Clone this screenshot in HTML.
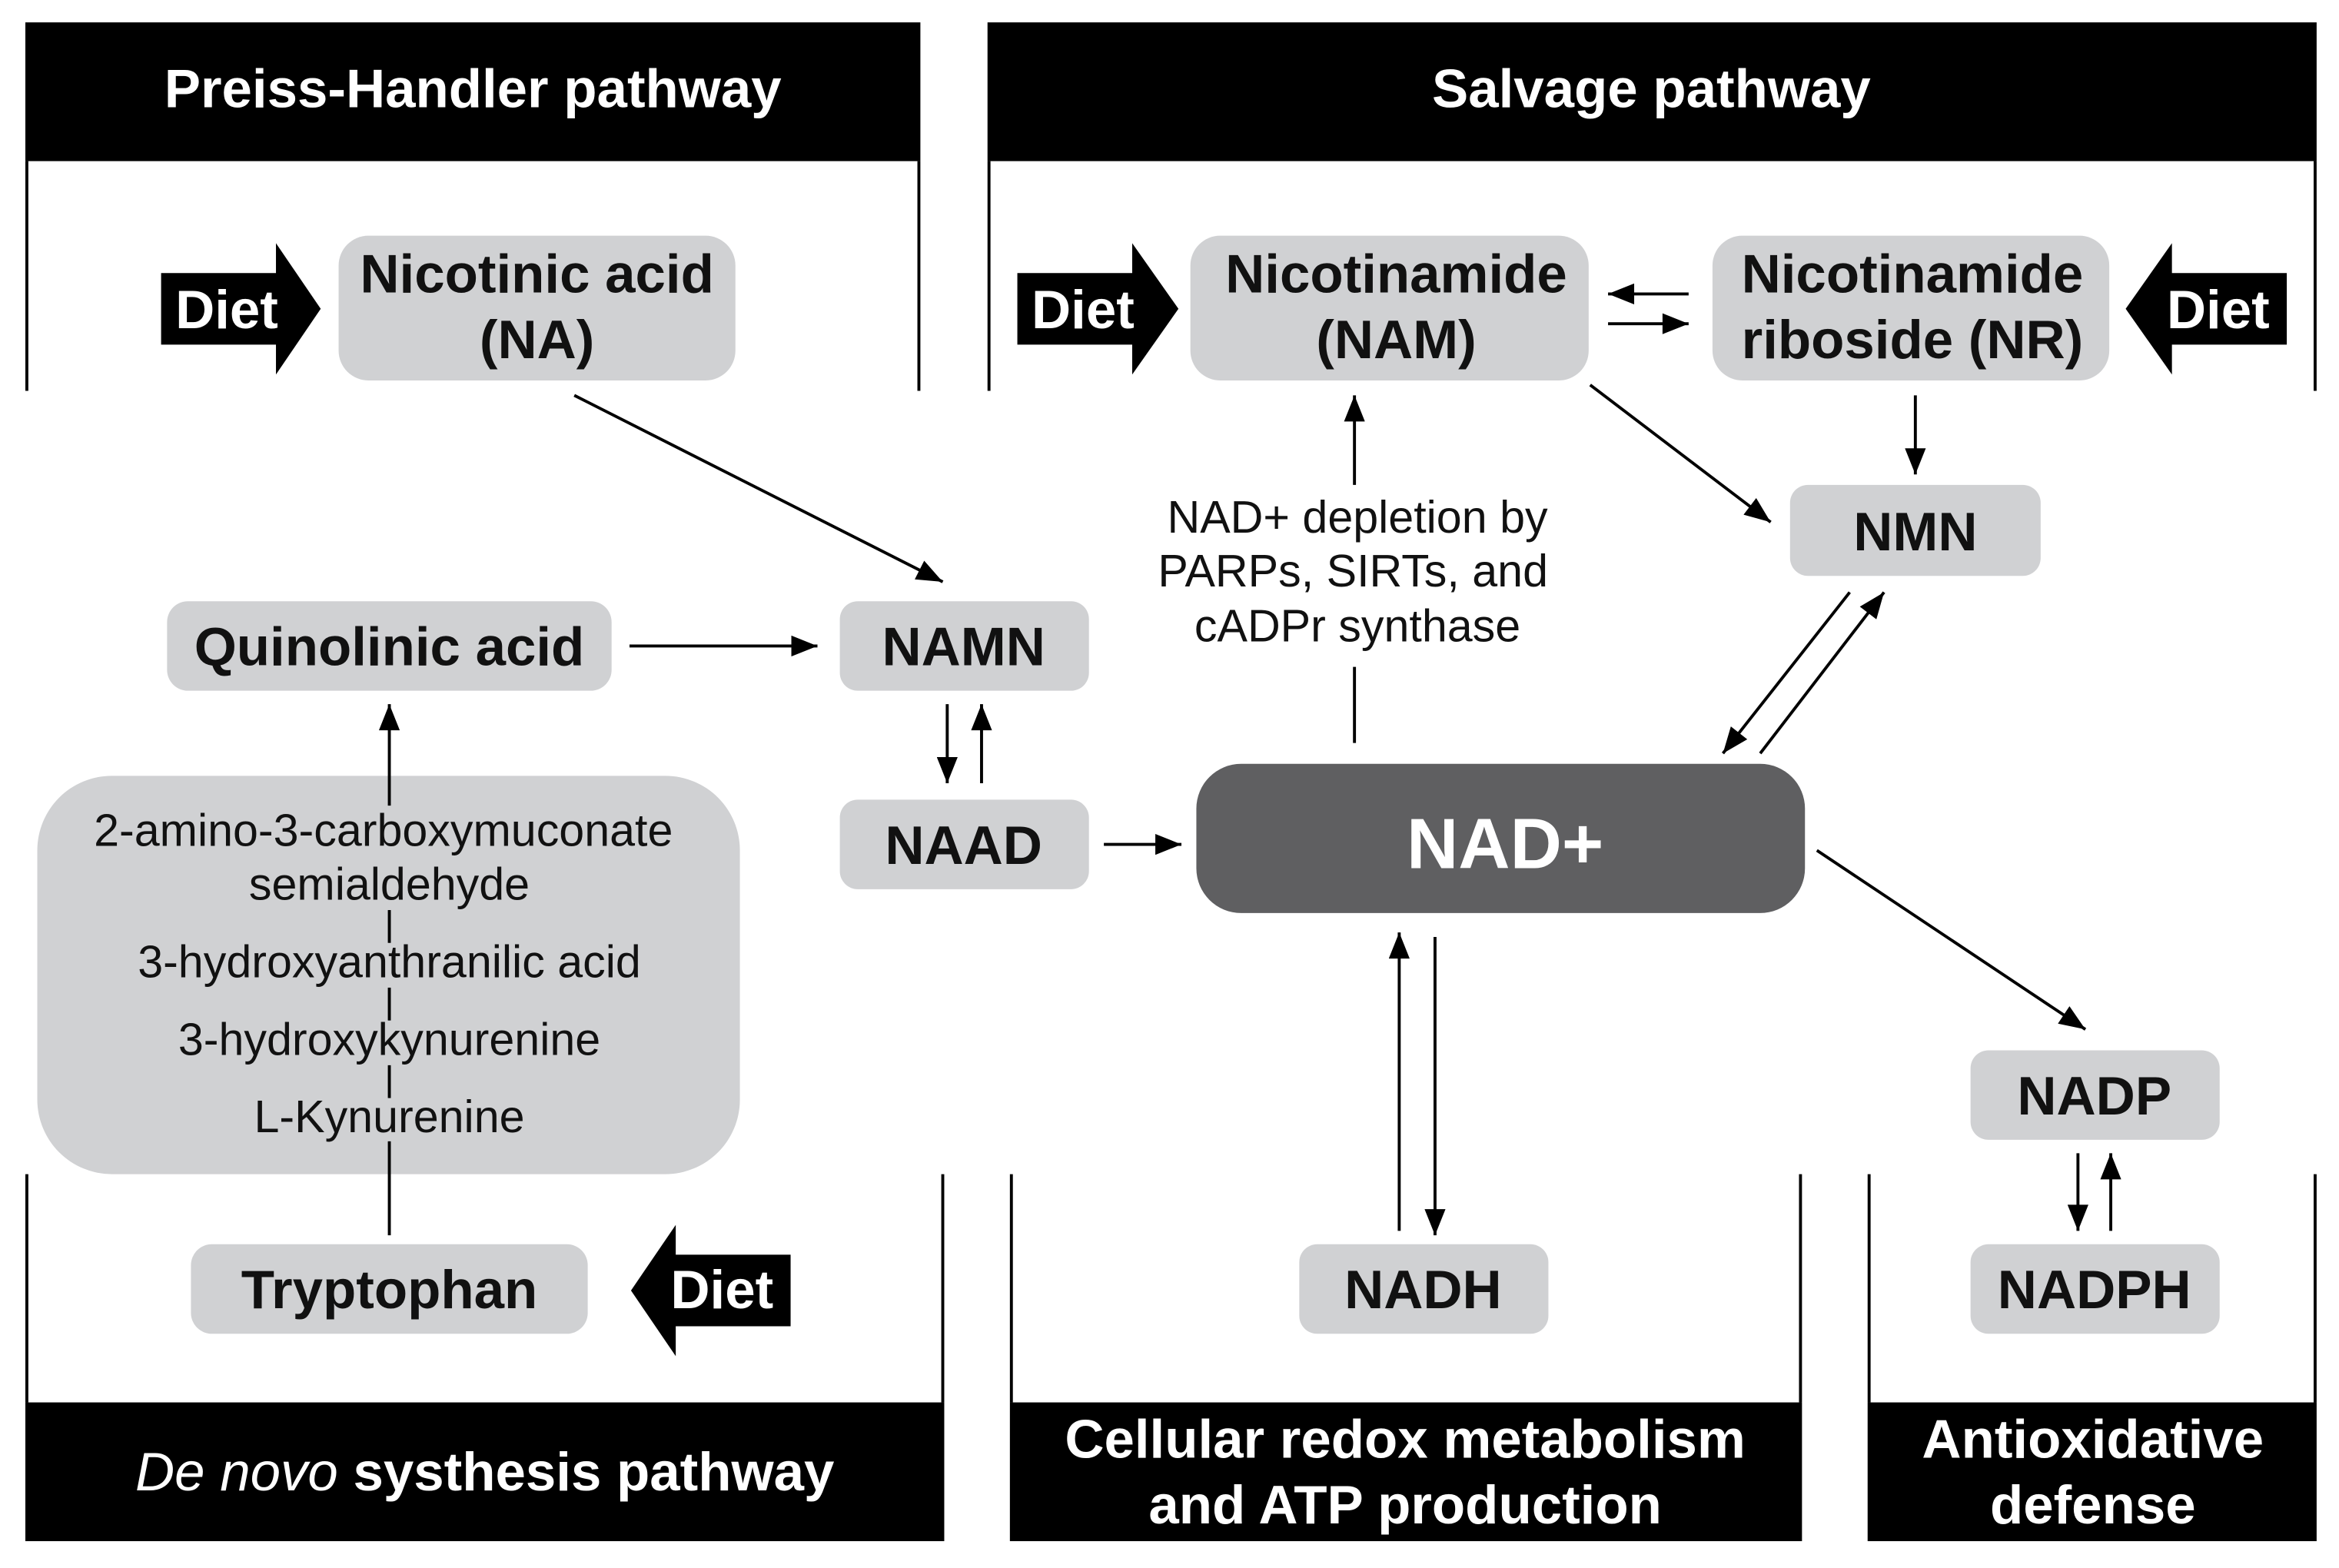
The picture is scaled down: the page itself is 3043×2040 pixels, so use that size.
<!DOCTYPE html>
<html><head><meta charset="utf-8"><style>
html,body{margin:0;padding:0;background:#fff;}
svg{display:block;}
text{font-family:"Liberation Sans",Arial,sans-serif;}
.b{font-weight:bold;font-size:36.5px;fill:#111;}
.h{font-weight:bold;font-size:36.5px;fill:#fff;}
.n{font-size:30.5px;fill:#111;}
</style></head><body>
<svg width="3043" height="2040" viewBox="0 0 1568 1051" preserveAspectRatio="none" xmlns="http://www.w3.org/2000/svg">
<defs>
<marker id="ar" viewBox="0 0 10 8" refX="10" refY="4" markerWidth="18" markerHeight="14" markerUnits="userSpaceOnUse" orient="auto"><path d="M0,0 L10,4 L0,8 Z" fill="#000"/></marker>
</defs>
<rect x="17" y="15" width="600" height="93" fill="#000"/>
<text class="h" x="317" y="72" text-anchor="middle">Preiss-Handler pathway</text>
<rect x="662" y="15" width="891" height="93" fill="#000"/>
<text class="h" x="1107" y="72" text-anchor="middle">Salvage pathway</text>
<g stroke="#000" stroke-width="2">
<line x1="18" y1="108" x2="18" y2="262"/><line x1="616" y1="108" x2="616" y2="262"/>
<line x1="663" y1="108" x2="663" y2="262"/><line x1="1552" y1="108" x2="1552" y2="262"/>
<line x1="18" y1="787" x2="18" y2="940"/><line x1="632" y1="787" x2="632" y2="940"/>
<line x1="678" y1="787" x2="678" y2="940"/><line x1="1207" y1="787" x2="1207" y2="940"/>
<line x1="1253" y1="787" x2="1253" y2="940"/><line x1="1552" y1="787" x2="1552" y2="940"/>
</g>
<rect x="17" y="940" width="616" height="93" fill="#000"/>
<text class="h" x="325" y="999" text-anchor="middle"><tspan font-style="italic" font-weight="normal">De novo</tspan> systhesis pathway</text>
<rect x="677" y="940" width="531" height="93" fill="#000"/>
<text class="h" x="942" y="977" text-anchor="middle">Cellular redox metabolism</text>
<text class="h" x="942" y="1021" text-anchor="middle">and ATP production</text>
<rect x="1252" y="940" width="301" height="93" fill="#000"/>
<text class="h" x="1403" y="977" text-anchor="middle">Antioxidative</text>
<text class="h" x="1403" y="1021" text-anchor="middle">defense</text>
<path d="M108,183 H185 V163 L215,207 L185,251 V231 H108 Z" fill="#000"/>
<text class="h" x="152" y="220" text-anchor="middle">Diet</text>
<path d="M682,183 H759 V163 L790,207 L759,251 V231 H682 Z" fill="#000"/>
<text class="h" x="726" y="220" text-anchor="middle">Diet</text>
<path d="M1533,183 H1456 V163 L1425,207 L1456,251 V231 H1533 Z" fill="#000"/>
<text class="h" x="1487" y="220" text-anchor="middle">Diet</text>
<path d="M530,841 H453 V821 L423,865 L453,909 V889 H530 Z" fill="#000"/>
<text class="h" x="484" y="877" text-anchor="middle">Diet</text>
<g fill="#d0d1d3">
<rect x="227" y="158" width="266" height="97" rx="20"/>
<rect x="798" y="158" width="267" height="97" rx="20"/>
<rect x="1148" y="158" width="266" height="97" rx="20"/>
<rect x="1200" y="325" width="168" height="61" rx="12"/>
<rect x="112" y="403" width="298" height="60" rx="14"/>
<rect x="563" y="403" width="167" height="60" rx="12"/>
<rect x="563" y="536" width="167" height="60" rx="12"/>
<rect x="25" y="520" width="471" height="267" rx="50"/>
<rect x="128" y="834" width="266" height="60" rx="14"/>
<rect x="871" y="834" width="167" height="60" rx="12"/>
<rect x="1321" y="704" width="167" height="60" rx="12"/>
<rect x="1321" y="834" width="167" height="60" rx="12"/>
</g>
<rect x="802" y="512" width="408" height="100" rx="30" fill="#5f5f61"/>
<text x="1009" y="582" text-anchor="middle" font-weight="bold" font-size="48" fill="#fff">NAD+</text>
<text class="b" x="360" y="196" text-anchor="middle">Nicotinic acid</text>
<text class="b" x="360" y="240" text-anchor="middle">(NA)</text>
<text class="b" x="936" y="196" text-anchor="middle">Nicotinamide</text>
<text class="b" x="936" y="240" text-anchor="middle">(NAM)</text>
<text class="b" x="1282" y="196" text-anchor="middle">Nicotinamide</text>
<text class="b" x="1282" y="240" text-anchor="middle">riboside (NR)</text>
<text class="b" x="1284" y="369" text-anchor="middle">NMN</text>
<text class="b" x="261" y="446" text-anchor="middle">Quinolinic acid</text>
<text class="b" x="646" y="446" text-anchor="middle">NAMN</text>
<text class="b" x="646" y="579" text-anchor="middle">NAAD</text>
<text class="b" x="261" y="877" text-anchor="middle">Tryptophan</text>
<text class="b" x="954" y="877" text-anchor="middle">NADH</text>
<text class="b" x="1404" y="747" text-anchor="middle">NADP</text>
<text class="b" x="1404" y="877" text-anchor="middle">NADPH</text>
<text class="n" x="257" y="567" text-anchor="middle">2-amino-3-carboxymuconate</text>
<text class="n" x="261" y="603" text-anchor="middle">semialdehyde</text>
<text class="n" x="261" y="655" text-anchor="middle">3-hydroxyanthranilic acid</text>
<text class="n" x="261" y="707" text-anchor="middle">3-hydroxykynurenine</text>
<text class="n" x="261" y="759" text-anchor="middle">L-Kynurenine</text>
<text class="n" x="910" y="357" text-anchor="middle">NAD+ depletion by</text>
<text class="n" x="907" y="393" text-anchor="middle">PARPs, SIRTs, and</text>
<text class="n" x="910" y="430" text-anchor="middle">cADPr synthase</text>
<g stroke="#000" stroke-width="2" fill="none">
<line x1="261" y1="540" x2="261" y2="472" marker-end="url(#ar)"/>
<line x1="261" y1="610" x2="261" y2="632"/>
<line x1="261" y1="662" x2="261" y2="684"/>
<line x1="261" y1="714" x2="261" y2="736"/>
<line x1="261" y1="765" x2="261" y2="828"/>
<line x1="385" y1="265" x2="632" y2="390" marker-end="url(#ar)"/>
<line x1="422" y1="433" x2="548" y2="433" marker-end="url(#ar)"/>
<line x1="635" y1="472" x2="635" y2="525" marker-end="url(#ar)"/>
<line x1="658" y1="525" x2="658" y2="472" marker-end="url(#ar)"/>
<line x1="740" y1="566" x2="792" y2="566" marker-end="url(#ar)"/>
<line x1="908" y1="447" x2="908" y2="498"/>
<line x1="908" y1="325" x2="908" y2="265" marker-end="url(#ar)"/>
<line x1="1132" y1="197" x2="1078" y2="197" marker-end="url(#ar)"/>
<line x1="1078" y1="217" x2="1132" y2="217" marker-end="url(#ar)"/>
<line x1="1284" y1="265" x2="1284" y2="318" marker-end="url(#ar)"/>
<line x1="1066" y1="258" x2="1187" y2="350" marker-end="url(#ar)"/>
<line x1="1240" y1="397" x2="1155" y2="505" marker-end="url(#ar)"/>
<line x1="1180" y1="505" x2="1263" y2="397" marker-end="url(#ar)"/>
<line x1="1218" y1="570" x2="1398" y2="690" marker-end="url(#ar)"/>
<line x1="938" y1="825" x2="938" y2="625" marker-end="url(#ar)"/>
<line x1="962" y1="628" x2="962" y2="828" marker-end="url(#ar)"/>
<line x1="1393" y1="773" x2="1393" y2="825" marker-end="url(#ar)"/>
<line x1="1415" y1="825" x2="1415" y2="773" marker-end="url(#ar)"/>
</g>
</svg>
</body></html>
